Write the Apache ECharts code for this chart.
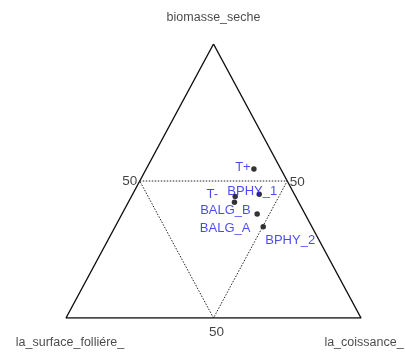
<!DOCTYPE html>
<html>
<head>
<meta charset="utf-8">
<script src="https://cdn.jsdelivr.net/npm/echarts@6/dist/echarts.min.js"></script>
<style>
html,body{margin:0;padding:0;background:#fff;}
#chart{width:405px;height:362px;}
</style>
</head>
<body>
<div id="chart"></div>
<script>
// Ternary composition (%) of each sample: top, left, right components
var sampleNames = ['T+', 'BPHY_1', 'T-', 'BALG_B', 'BALG_A', 'BPHY_2'];
var biomasseSeche = [54.4, 45.2, 44.3, 42.2, 38.0, 33.3];
var surfaceFolliere = [9.1, 11.9, 20.5, 21.8, 16.2, 16.5];
var coissance = [36.5, 42.9, 35.2, 36.0, 45.8, 50.2];

// Vertex (axis) names and the mid-scale tick
var vertexNames = ['biomasse_seche', 'la_surface_folliére_', 'la_coissance_'];
var midTick = 50;

// label offsets for each sample name (pixels from its point)
var labelOffsets = [[-11, -2], [-7, -3], [-23, -2], [-9, 8], [-32, 15], [27, 14]];

// barycentric -> plane: x along the base, y = height fraction
function toXY(top, left, right) {
  var s = top + left + right;
  var t = top / s, r = right / s;
  return [r + t / 2, t];
}

var outer = [toXY(100, 0, 0), toXY(0, 100, 0), toXY(0, 0, 100), toXY(100, 0, 0)];
var inner = [
  toXY(midTick, 100 - midTick, 0),
  toXY(midTick, 0, 100 - midTick),
  toXY(0, 100 - midTick, midTick),
  toXY(midTick, 100 - midTick, 0)
];

var pts = sampleNames.map(function (n, i) {
  return {
    value: toXY(biomasseSeche[i], surfaceFolliere[i], coissance[i]),
    name: n,
    label: { offset: labelOffsets[i] }
  };
});

var tickPts = [
  { value: toXY(midTick, 100 - midTick, 0), label: { offset: [-10, 0] } },
  { value: toXY(midTick, 0, 100 - midTick), label: { offset: [10, 1] } },
  { value: toXY(0, 100 - midTick, midTick), label: { offset: [3, 14] } }
];

var vertexPts = [
  { value: toXY(100, 0, 0), name: vertexNames[0], label: { offset: [0, -26] } },
  { value: toXY(0, 100, 0), name: vertexNames[1], label: { offset: [4, 25] } },
  { value: toXY(0, 0, 100), name: vertexNames[2], label: { offset: [3, 25] } }
];

var chart = echarts.init(document.getElementById('chart'), null, { renderer: 'canvas' });
chart.setOption({
  animation: false,
  backgroundColor: '#ffffff',
  grid: { left: 66, top: 44, width: 295, height: 274, containLabel: false },
  xAxis: { type: 'value', min: 0, max: 1, show: false },
  yAxis: { type: 'value', min: 0, max: 1, show: false },
  series: [
    {
      type: 'line', data: outer, symbol: 'none', silent: true,
      lineStyle: { color: '#111', width: 1.4 }
    },
    {
      type: 'line', data: inner, symbol: 'none', silent: true,
      lineStyle: { color: '#222', width: 1, type: [1.5, 1.5] }
    },
    {
      type: 'scatter', data: pts, symbol: 'circle', symbolSize: 5.5,
      itemStyle: { color: '#000' },
      label: {
        show: true, position: 'inside', formatter: '{b}',
        color: '#1c1cf2', fontSize: 13, fontFamily: 'Liberation Sans, Arial, sans-serif'
      }
    },
    {
      type: 'scatter', data: tickPts, symbolSize: 0, silent: true,
      label: {
        show: true, position: 'inside', formatter: String(midTick),
        color: '#111', fontSize: 13.5, fontFamily: 'Liberation Sans, Arial, sans-serif'
      }
    },
    {
      type: 'scatter', data: vertexPts, symbolSize: 0, silent: true,
      label: {
        show: true, position: 'inside', formatter: '{b}',
        color: '#1a1a1a', fontSize: 12.5, fontFamily: 'Liberation Sans, Arial, sans-serif'
      }
    }
  ]
});
</script>
</body>
</html>
